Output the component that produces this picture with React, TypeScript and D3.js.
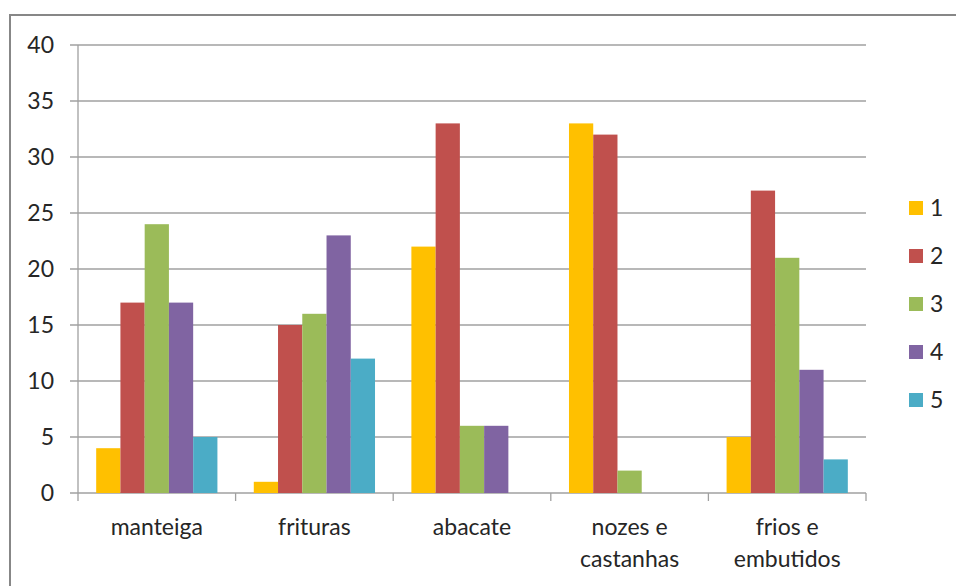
import React from "react";
import * as d3 from "d3";

const categories = ["manteiga", "frituras", "abacate", "nozes e|castanhas", "frios e|embutidos"];
const seriesNames = ["1", "2", "3", "4", "5"];
const series1 = [4, 1, 22, 33, 5];
const series2 = [17, 15, 33, 32, 27];
const series3 = [24, 16, 6, 2, 21];
const series4 = [17, 23, 6, 0, 11];
const series5 = [5, 12, 0, 0, 3];
const yTicks = [0, 5, 10, 15, 20, 25, 30, 35, 40];
const colors = ["#FFC000", "#C0504D", "#9BBB59", "#8064A2", "#4BACC6"];

const W = 956;
const H = 586;
const plot = { left: 78, right: 866, top: 45, bottom: 493 };
const font = "Lato, 'Open Sans', sans-serif";
const fs = 23;

export default function App() {
  const allSeries = [series1, series2, series3, series4, series5];
  const x = d3.scaleBand<string>().domain(categories).range([plot.left, plot.right]);
  // bars within a group: gap of 0.75 bar width on each side
  const inner = d3
    .scaleBand<string>()
    .domain(seriesNames)
    .range([0, x.bandwidth()])
    .paddingInner(0)
    .paddingOuter(0.75);
  const y = d3.scaleLinear().domain([0, 40]).range([plot.bottom, plot.top]);

  return (
    <svg
      width={W}
      height={H}
      style={{ position: "absolute", left: 0, top: 0, background: "#fff" }}
      fontFamily={font}
    >
      <rect x={10} y={15} width={1200} height={1200} fill="none" stroke="#878787" strokeWidth={2} />
      {yTicks.map((t) => (
        <g key={t}>
          <line x1={plot.left - 8} x2={plot.right} y1={y(t)} y2={y(t)} stroke="#A0A0A0" strokeWidth={1.3} />
          <text x={54} y={y(t)} dy="0.36em" textAnchor="end" fontSize={fs} fill="#262626">
            {t}
          </text>
        </g>
      ))}
      <line x1={plot.left} x2={plot.left} y1={plot.top} y2={plot.bottom} stroke="#A0A0A0" strokeWidth={1.3} />
      {d3.range(categories.length + 1).map((i) => {
        const xx = plot.left + i * x.bandwidth();
        return <line key={i} x1={xx} x2={xx} y1={plot.bottom} y2={plot.bottom + 8} stroke="#A0A0A0" strokeWidth={1.3} />;
      })}
      {categories.map((c, ci) =>
        allSeries.map((s, si) => {
          const v = s[ci];
          if (v <= 0) return null;
          const bx = (x(c) as number) + (inner(seriesNames[si]) as number);
          return (
            <rect
              key={c + si}
              x={bx}
              y={y(v)}
              width={inner.bandwidth()}
              height={y(0) - y(v)}
              fill={colors[si]}
            />
          );
        })
      )}
      {categories.map((c) => {
        const lines = c.split("|");
        const cx = (x(c) as number) + x.bandwidth() / 2;
        return (
          <text key={c} x={cx} textAnchor="middle" fontSize={fs} fill="#262626">
            {lines.map((l, i) => (
              <tspan key={i} x={cx} y={535 + i * 32}>
                {l}
              </tspan>
            ))}
          </text>
        );
      })}
      {seriesNames.map((n, i) => {
        const cy = 208 + i * 48;
        return (
          <g key={n}>
            <rect x={909} y={cy - 7} width={14} height={14} fill={colors[i]} />
            <text x={930} y={cy} dy="0.36em" fontSize={fs} fill="#262626">
              {n}
            </text>
          </g>
        );
      })}
    </svg>
  );
}
